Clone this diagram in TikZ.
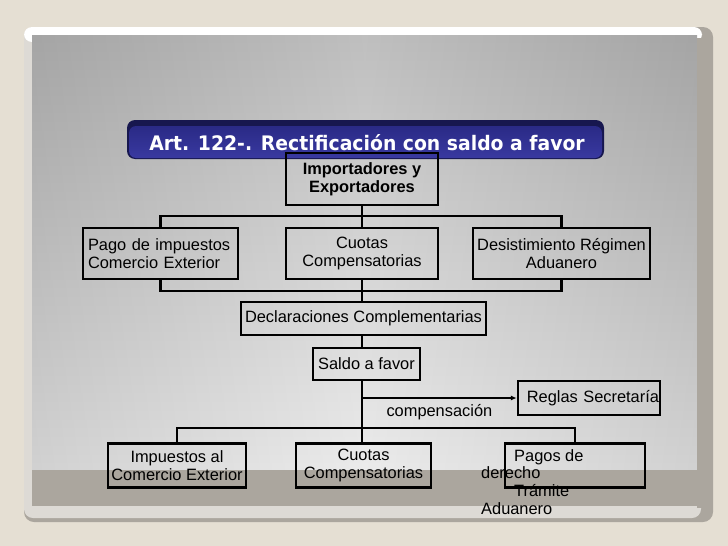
\documentclass[tikz,border=0pt]{standalone}
\usepackage{fontspec}
\setmainfont{Liberation Sans}
\newfontfamily\titlefont{DejaVu Sans}
\usetikzlibrary{arrows.meta}
\definecolor{bgbeige}{HTML}{E5DFD3}
\definecolor{framegray}{HTML}{ABA69E}
\definecolor{framelight}{HTML}{DDDAD5}
\definecolor{navydark}{HTML}{17174F}
\definecolor{navy}{HTML}{2A2A86}
\definecolor{navylight}{HTML}{3939A0}
\begin{document}
\begin{tikzpicture}[x=1pt,y=-1pt,
    box/.style={draw=black, line width=2.4pt, inner sep=0pt, align=center,
      font=\fontsize{16.4}{17.7}\selectfont},
    conn/.style={black, line width=2.2pt},
    lbl/.style={inner sep=0pt, font=\fontsize{16.4}{17.7}\selectfont}]
    % Slide frame
    \fill[bgbeige] (0,0) rectangle (728,546);
    \fill[framegray, rounded corners=10pt] (24,27) rectangle (713,522);
    \fill[framelight, rounded corners=9pt] (24,27) rectangle (701,518);
    \fill[white, rounded corners=8pt] (24,27) rectangle (702,42);
    \shade[top color=gray!56, bottom color=gray!17] (32,35) rectangle (697,470);
    \shade[left color=black, right color=black, middle color=white, opacity=0.1] (32,35) rectangle (697,470);
    \fill[framegray] (32,470) rectangle (697,506);
    \fill[framegray] (697,38) rectangle (702,508);
    % Title
    \fill[navydark, rounded corners=8pt] (127,120) rectangle (604,159);
    \shade[top color=navy, bottom color=navylight, rounded corners=7pt] (129,126) rectangle (602,158);
    \node[text=white, inner sep=0pt, font=\titlefont\bfseries\fontsize{20}{24}\selectfont] (title) at (367,143)
      {\scalebox{0.94}[1]{Art. 122-. Rectificación con saldo a favor}};
    % Boxes
    \node[box, minimum width=152pt, minimum height=52pt, font=\fontsize{16.4}{17.7}\selectfont\bfseries] (imp) at (362,179)
      {Importadores y\\Exportadores};
    \node[box, minimum width=155pt, minimum height=51pt, inner xsep=5pt, text width=145pt, align=left] (pago) at (160.5,253.5)
      {Pago de impuestos\\Comercio Exterior};
    \node[box, minimum width=152pt, minimum height=51pt] (cuotas) at (362,253.5) {Cuotas\\Compensatorias};
    \node[box, minimum width=177pt, minimum height=51pt] (desist) at (561.5,253.5) {Desistimiento Régimen\\Aduanero};
    \node[box, minimum width=245pt, minimum height=33pt] (decl) at (363.5,318.5) {Declaraciones Complementarias};
    \node[box, minimum width=107pt, minimum height=32pt] (saldo) at (366.5,364) {Saldo a favor};
    \node[box, minimum width=142pt, minimum height=34pt, text width=140pt, align=right] (reglas) at (589,398)
      {Reglas Secretaría};
    \node[box, minimum width=138pt, minimum height=44pt] (impext) at (177,465.5) {Impuestos al\\Comercio Exterior};
    \node[box, minimum width=135pt, minimum height=44pt] (cuotasb) at (363.5,465.5) {Cuotas\\Compensatorias};
    \node[box, minimum width=140pt, minimum height=44pt] (pagos) at (575,465.5) {};
    \node[lbl, anchor=north west, align=left] (pagostxt) at (481,449)
      {\hspace*{33pt}Pagos de\\derecho\\\hspace*{33pt}Trámite\\Aduanero};
    % Connectors
    \coordinate (bus1) at (362,216);
    \coordinate (bus2) at (362,291);
    \coordinate (bus3) at (362,428);
    \draw[conn] (imp.south) -- (cuotas.north);
    \draw[conn] (pago.north) |- (bus1) -| (desist.north);
    \draw[conn] (pago.south) |- (bus2) -| (desist.south);
    \draw[conn] (cuotas.south) -- (bus2 |- decl.north);
    \draw[conn] (bus2 |- decl.south) -- (bus2 |- saldo.north);
    \draw[conn] (bus2 |- saldo.south) -- (bus3);
    \draw[conn] (impext.north) |- (bus3) -| (pagos.north);
    \draw[conn] (bus3) -- (bus3 |- cuotasb.north);
    \draw[conn, -{Latex[length=6pt, width=5pt]}] (bus3 |- reglas.west) -- (reglas.west)
      node[lbl, midway, below=5pt] (comp) {compensación};
\end{tikzpicture}
\end{document}
